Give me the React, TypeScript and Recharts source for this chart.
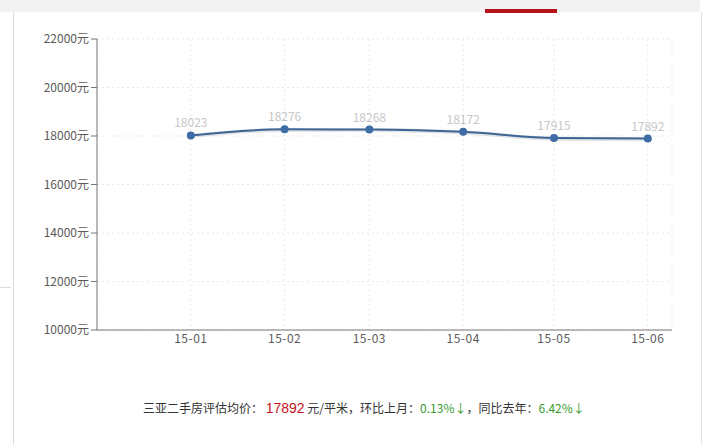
import React from "react";
import {
  LineChart,
  Line,
  XAxis,
  YAxis,
  CartesianGrid,
  LabelList,
} from "recharts";

// days counted from 2014-12-01 (axis start)
const monthDays = [31, 62, 90, 121, 151, 182];
const monthLabels = ["15-01", "15-02", "15-03", "15-04", "15-05", "15-06"];
const prices = [18023, 18276, 18268, 18172, 17915, 17892];
const yTicks = [10000, 12000, 14000, 16000, 18000, 20000, 22000];

const data = monthDays.map((d, i) => ({
  day: d,
  label: monthLabels[i],
  price: prices[i],
  shadow: prices[i] - 25,
}));

const FONT = '"Noto Sans CJK SC", "Noto Sans", sans-serif';

export default function App() {
  return (
    <div
      style={{
        position: "absolute",
        left: 0,
        top: 0,
        width: 711,
        height: 445,
        background: "#fff",
        fontFamily: FONT,
        overflow: "hidden",
      }}
    >
      {/* page chrome */}
      <div style={{ position: "absolute", left: 0, top: 0, width: 700, height: 12, background: "#f2f2f2" }} />
      <div style={{ position: "absolute", left: 485, top: 9, width: 72, height: 4, background: "#b5121b" }} />
      <div style={{ position: "absolute", left: 13, top: 12, width: 1, height: 433, background: "#dcdcdc" }} />
      <div style={{ position: "absolute", left: 701, top: 12, width: 1, height: 433, background: "#e4e4e4" }} />
      <div style={{ position: "absolute", left: 0, top: 287, width: 11, height: 1, background: "#dcdcdc" }} />

      <div style={{ position: "absolute", left: 0, top: 0 }}>
        <LineChart
          width={711}
          height={445}
          data={data}
          margin={{ top: 39, right: 39, bottom: 85, left: 37 }}
        >
          <CartesianGrid stroke="#e8e8e8" strokeDasharray="2 3" />
          <XAxis
            type="number"
            dataKey="day"
            domain={[0, 190]}
            ticks={monthDays}
            tickFormatter={(v: number) => monthLabels[monthDays.indexOf(v)] ?? ""}
            stroke="#777"
            tickLine={false}
            tickSize={4}
            tickMargin={0}
            tick={{ fill: "#5a5a5a", fontSize: 12, fontFamily: FONT, letterSpacing: 0.5 }}
            height={30}
          />
          <YAxis
            type="number"
            domain={[10000, 22000]}
            ticks={yTicks}
            tickFormatter={(v: number) => `${v}元`}
            stroke="#777"
            tickSize={6}
            tickMargin={2}
            tick={{ fill: "#5a5a5a", fontSize: 12, fontFamily: FONT }}
            width={60}
          />
          <Line
            type="monotone"
            dataKey="shadow"
            stroke="rgba(60,80,110,0.15)"
            strokeWidth={4}
            dot={false}
            activeDot={false}
            isAnimationActive={false}
          />
          <Line
            type="monotone"
            dataKey="price"
            stroke="#3d6595"
            strokeWidth={2}
            dot={{ r: 4, fill: "#3e6ca6", stroke: "none" }}
            activeDot={false}
            isAnimationActive={false}
          >
            <LabelList
              dataKey="price"
              position="top"
              offset={8}
              fill="#c6c6c6"
              fontSize={12}
              fontFamily={FONT}
            />
          </Line>
        </LineChart>
      </div>

      <div
        style={{
          position: "absolute",
          left: 143,
          top: 398,
          fontSize: 12,
          color: "#333",
          whiteSpace: "nowrap",
          lineHeight: "20px",
        }}
      >
        三亚二手房评估均价：{" "}
        <span style={{ color: "#c4161c", fontSize: 14, fontFamily: '"Liberation Sans", Arial, sans-serif' }}>
          17892
        </span>{" "}
        元/平米，环比上月：
        <span style={{ color: "#3a9a2e" }}>0.13%↓</span>，同比去年：
        <span style={{ color: "#3a9a2e" }}>6.42%↓</span>
      </div>
    </div>
  );
}
